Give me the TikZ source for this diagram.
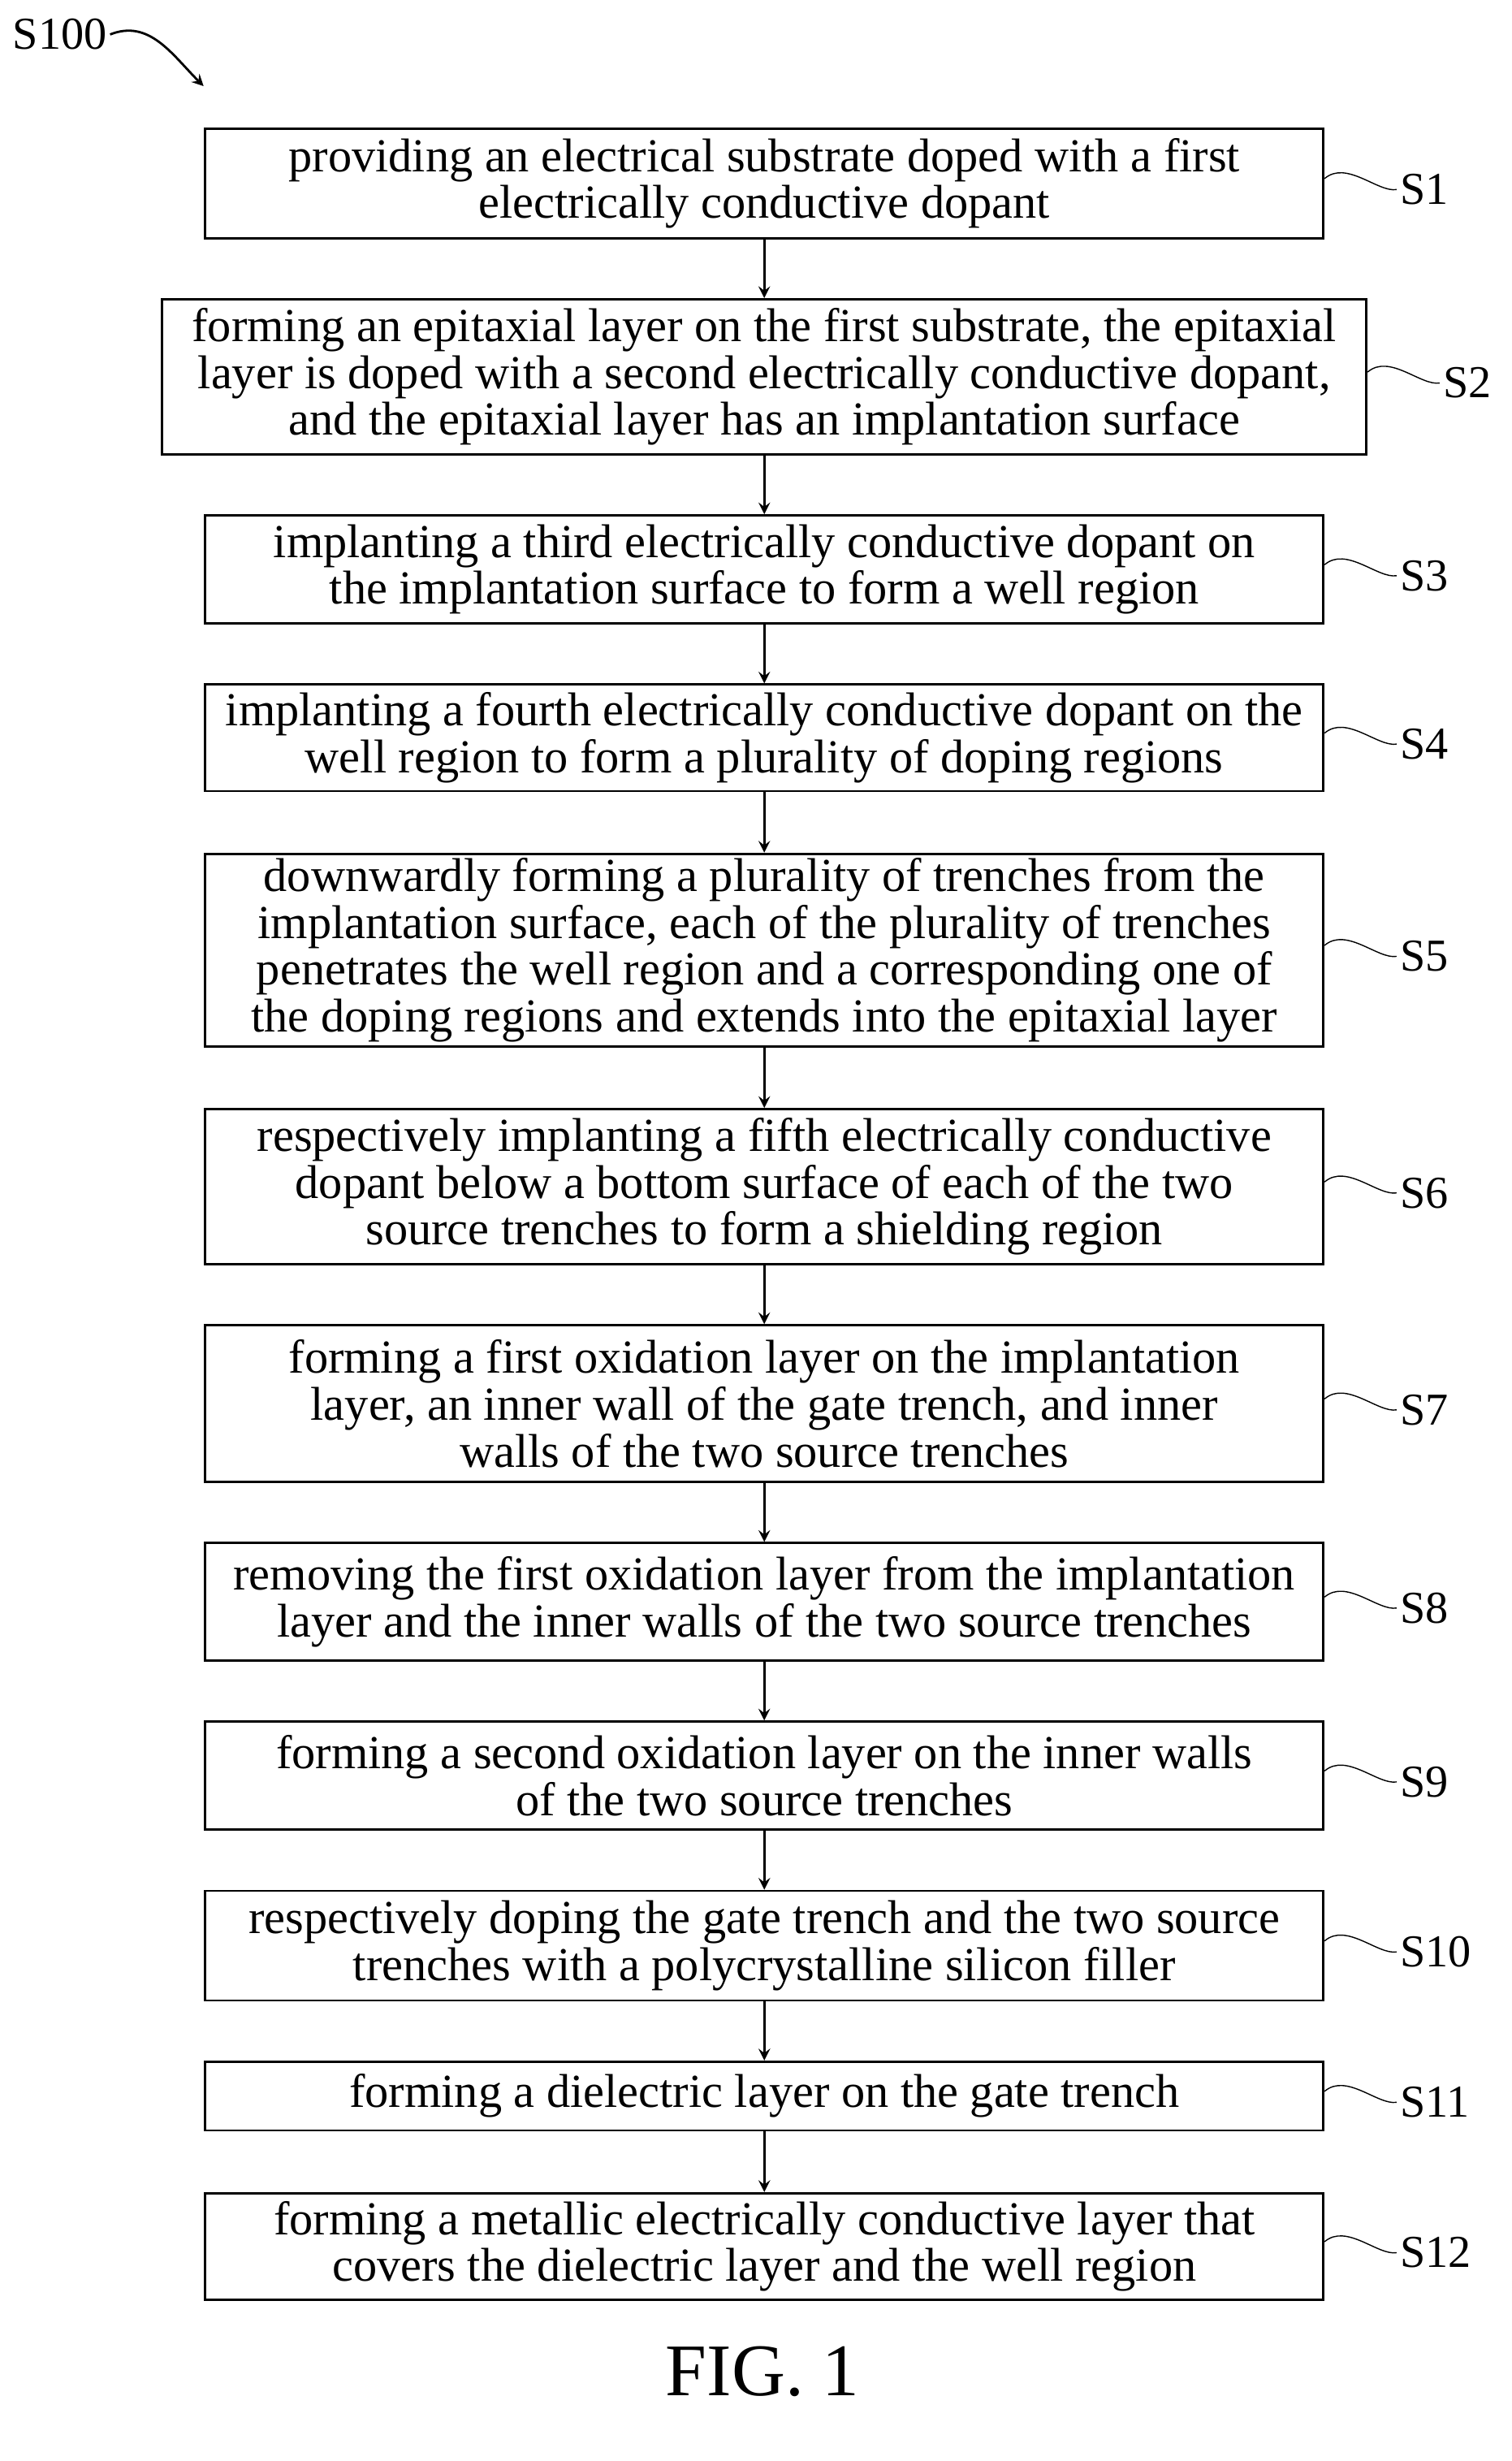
\documentclass[tikz,border=0pt]{standalone}
\usepackage{fontspec}
\setmainfont{Liberation Serif}
\usetikzlibrary{arrows}
\newcommand{\unitpx}{0.1929mm}
\tikzset{%
   stepbox/.style={
    draw, thick,
    align=center,
    inner sep=0pt,
    font=\fontsize{16.6}{16.4}\selectfont,
  },
  steplabel/.style={
    anchor=west,
    inner sep=1pt,
    font=\fontsize{16}{17}\selectfont,
  },
}
\begin{document}
\begin{tikzpicture}[x=0.1929mm, y=-0.1929mm, >=stealth]
\useasboundingbox (0,0) rectangle (965,1571);
%=========================================================================================================
% Steps
%=========================================================================================================
\node [stepbox, minimum width=714*\unitpx, minimum height=70*\unitpx] (step-1) at (488,117)
  {providing an electrical substrate doped with a first\\electrically conductive dopant};
\node [stepbox, minimum width=769*\unitpx, minimum height=99*\unitpx] (step-2) at (488,240.5)
  {forming an epitaxial layer on the first substrate, the epitaxial\\layer is doped with a second electrically conductive dopant,\\and the epitaxial layer has an implantation surface};
\node [stepbox, minimum width=714*\unitpx, minimum height=69*\unitpx] (step-3) at (488,363.5)
  {implanting a third electrically conductive dopant on\\the implantation surface to form a well region};
\node [stepbox, minimum width=714*\unitpx, minimum height=68*\unitpx] (step-4) at (488,471)
  {implanting a fourth electrically conductive dopant on the\\well region to form a plurality of doping regions};
\node [stepbox, minimum width=714*\unitpx, minimum height=123*\unitpx] (step-5) at (488,606.5)
  {downwardly forming a plurality of trenches from the\\implantation surface, each of the plurality of trenches\\penetrates the well region and a corresponding one of\\the doping regions and extends into the epitaxial layer};
\node [stepbox, minimum width=714*\unitpx, minimum height=99*\unitpx] (step-6) at (488,757.5)
  {respectively implanting a fifth electrically conductive\\dopant below a bottom surface of each of the two\\source trenches to form a shielding region};
\node [stepbox, minimum width=714*\unitpx, minimum height=100*\unitpx] (step-7) at (488,896)
  {forming a first oxidation layer on the implantation\\layer, an inner wall of the gate trench, and inner\\walls of the two source trenches};
\node [stepbox, minimum width=714*\unitpx, minimum height=75*\unitpx] (step-8) at (488,1022.5)
  {removing the first oxidation layer from the implantation\\layer and the inner walls of the two source trenches};
\node [stepbox, minimum width=714*\unitpx, minimum height=69*\unitpx] (step-9) at (488,1133.5)
  {forming a second oxidation layer on the inner walls\\of the two source trenches};
\node [stepbox, minimum width=714*\unitpx, minimum height=70*\unitpx] (step-10) at (488,1242)
  {respectively doping the gate trench and the two source\\trenches with a polycrystalline silicon filler};
\node [stepbox, minimum width=714*\unitpx, minimum height=44*\unitpx] (step-11) at (488,1338)
  {forming a dielectric layer on the gate trench};
\node [stepbox, minimum width=714*\unitpx, minimum height=68*\unitpx] (step-12) at (488,1434)
  {forming a metallic electrically conductive layer that\\covers the dielectric layer and the well region};

%Arrows between the steps
\foreach \i [evaluate=\i as \j using int(\i+1)] in {1,...,11}
  \draw [->, thick] (step-\i) -- (step-\j);

%Step labels S1 - S12 with the tilde going to the box
\foreach \i in {1,...,12}
{
  \node [steplabel] (label-\i) at ([xshift=46*\unitpx, yshift=-4*\unitpx]step-\i.east) {S\i};
  \draw ([yshift=3*\unitpx]step-\i.east) .. controls +(14,-12) and +(-12,2) .. (label-\i.west);
}

%=========================================================================================================
% Header and caption
%=========================================================================================================
\node [steplabel] (flow) at (6,22) {S100};
\coordinate (flow-end) at (130,55);
\draw [->, thick] (flow.east) .. controls +(25,-10) and +(-20,-20) .. (flow-end);

\node [font=\fontsize{26}{28}\selectfont] (caption) at (487,1514) {FIG. 1};

\end{tikzpicture}
\end{document}
